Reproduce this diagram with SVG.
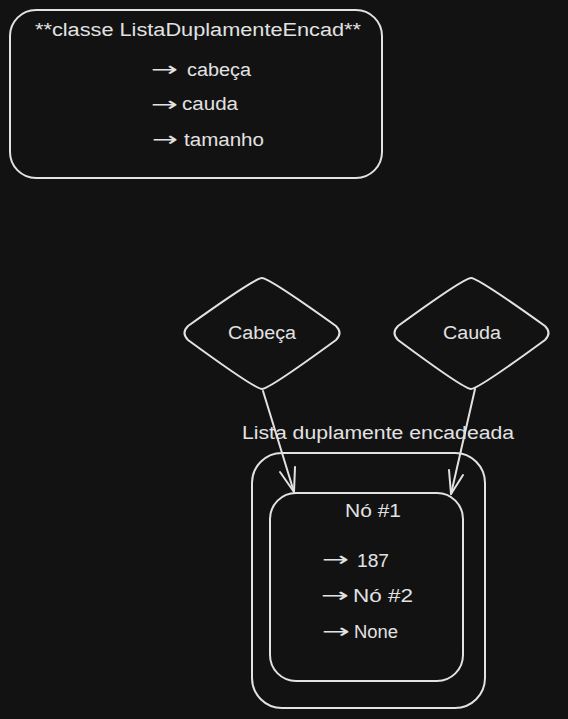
<svg xmlns="http://www.w3.org/2000/svg" width="568" height="719" viewBox="0 0 568 719">
<style>
.s{fill:none;stroke:#e2e2e2;stroke-width:2;stroke-linecap:round;stroke-linejoin:round}
.t{fill:#e2e2e2;font-family:"Liberation Sans","DejaVu Sans",sans-serif;font-size:18px}
.c{text-anchor:middle}
.a{fill:#e2e2e2;font-family:"DejaVu Sans",sans-serif;font-size:20px}
</style>
<rect width="568" height="719" fill="#121212"/>
<g id="classe">
<rect class="s" x="10" y="10" width="372" height="168" rx="26"/>
<text class="t c" x="198" y="36" textLength="326" lengthAdjust="spacingAndGlyphs">**classe ListaDuplamenteEncad**</text>
<text class="a" x="151" y="76" textLength="27" lengthAdjust="spacingAndGlyphs">→</text>
<text class="t" x="187" y="76" textLength="64" lengthAdjust="spacingAndGlyphs">cabeça</text>
<text class="a" x="151" y="111" textLength="27" lengthAdjust="spacingAndGlyphs">→</text>
<text class="t" x="182" y="110" textLength="56" lengthAdjust="spacingAndGlyphs">cauda</text>
<text class="a" x="152" y="146" textLength="26" lengthAdjust="spacingAndGlyphs">→</text>
<text class="t" x="184" y="146" textLength="80" lengthAdjust="spacingAndGlyphs">tamanho</text>
</g>
<g id="cabeca">
<path class="s" d="M262,278 Q269,278 336,326 Q343,333 336,340 Q269,389 262,389 Q255,389 188,340 Q181,333 188,326 Q255,278 262,278 Z"/>
<text class="t c" x="262" y="339" font-size="17" textLength="68" lengthAdjust="spacingAndGlyphs">Cabeça</text>
</g>
<g id="cauda">
<path class="s" d="M471,278 Q478,278 545,326 Q552,333 545,340 Q478,389 471,389 Q464,389 398,340 Q391,333 398,326 Q464,278 471,278 Z"/>
<text class="t c" x="472" y="339" font-size="17" textLength="58" lengthAdjust="spacingAndGlyphs">Cauda</text>
</g>
<g id="lista">
<text class="t c" x="378" y="439" textLength="272" lengthAdjust="spacingAndGlyphs">Lista duplamente encadeada</text>
<rect class="s" x="252" y="453" width="233" height="255" rx="30"/>
</g>
<g id="no1">
<rect class="s" x="270" y="493" width="193" height="188" rx="26"/>
<text class="t c" x="373" y="517" textLength="56" lengthAdjust="spacingAndGlyphs">Nó #1</text>
<text class="a" x="322" y="566" textLength="27" lengthAdjust="spacingAndGlyphs">→</text>
<text class="t" x="357" y="567" textLength="32" lengthAdjust="spacingAndGlyphs">187</text>
<text class="a" x="321" y="602" textLength="28" lengthAdjust="spacingAndGlyphs">→</text>
<text class="t" x="353" y="602" textLength="60" lengthAdjust="spacingAndGlyphs">Nó #2</text>
<text class="a" x="322" y="638" textLength="28" lengthAdjust="spacingAndGlyphs">→</text>
<text class="t" x="354" y="638" textLength="44" lengthAdjust="spacingAndGlyphs">None</text>
</g>
<g id="connectors">
<path class="s" d="M263,391 L294,492"/>
<path class="s" d="M280,472 L294,492 L295,467"/>
<path class="s" d="M475,389 L451,494"/>
<path class="s" d="M449,470 L451,494 L463,475"/>
</g>
</svg>
